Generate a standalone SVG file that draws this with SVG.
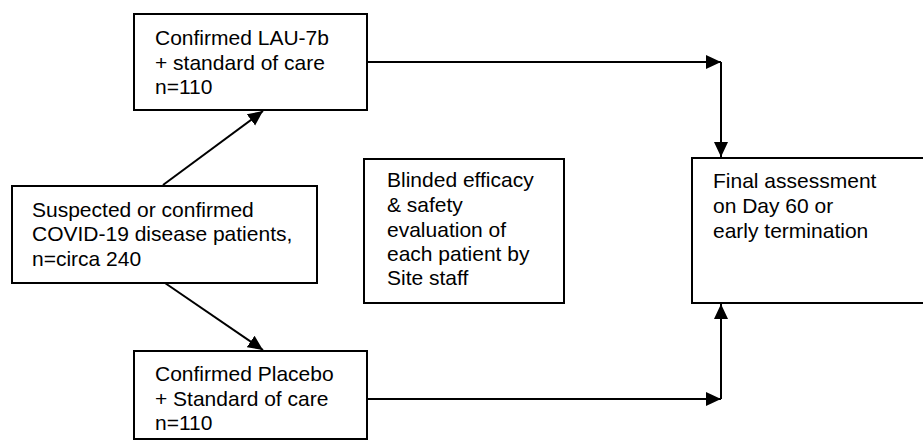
<svg xmlns="http://www.w3.org/2000/svg" width="923" height="440" viewBox="0 0 923 440">
<style>
.box{fill:#fff;stroke:#000;stroke-width:2}
.t{font-family:"Liberation Sans",Arial,sans-serif;font-size:21px;fill:#000}
.c{fill:none;stroke:#000;stroke-width:2}
</style>
<defs>
<marker id="ah" markerUnits="userSpaceOnUse" markerWidth="16" markerHeight="16" viewBox="0 0 16 16" refX="15" refY="8" orient="auto">
<path d="M0,1 L15,8 L0,15 Z" fill="#000"/>
</marker>
</defs>
<rect width="923" height="440" fill="#fff"/>
<g id="top">
<rect class="box" x="134" y="14" width="233" height="96"/>
<text class="t" x="155" y="45">Confirmed LAU-7b</text>
<text class="t" x="155" y="70">+ standard of care</text>
<text class="t" x="155" y="94">n=110</text>
</g>
<g id="left">
<rect class="box" x="12" y="186" width="305" height="97"/>
<text class="t" x="32" y="217">Suspected or confirmed</text>
<text class="t" x="32" y="241">COVID-19 disease patients,</text>
<text class="t" x="32" y="266">n=circa 240</text>
</g>
<g id="middle">
<rect class="box" x="364" y="159" width="200" height="144"/>
<text class="t" x="387" y="187">Blinded efficacy</text>
<text class="t" x="387" y="212">&amp; safety</text>
<text class="t" x="387" y="237">evaluation of</text>
<text class="t" x="387" y="261">each patient by</text>
<text class="t" x="387" y="285">Site staff</text>
</g>
<g id="bottom">
<rect class="box" x="134" y="351" width="233" height="88"/>
<text class="t" x="155" y="381">Confirmed Placebo</text>
<text class="t" x="155" y="406">+ Standard of care</text>
<text class="t" x="155" y="430">n=110</text>
</g>
<g id="final">
<rect class="box" x="692" y="158" width="240" height="145"/>
<text class="t" x="713" y="188">Final assessment</text>
<text class="t" x="713" y="213">on Day 60 or</text>
<text class="t" x="713" y="238">early termination</text>
</g>
<g id="connectors">
<line class="c" x1="163" y1="185" x2="263" y2="111" marker-end="url(#ah)"/>
<line class="c" x1="165" y1="283" x2="263" y2="350" marker-end="url(#ah)"/>
<line class="c" x1="367" y1="62" x2="721" y2="62" marker-end="url(#ah)"/>
<line class="c" x1="721" y1="62" x2="721" y2="157" marker-end="url(#ah)"/>
<line class="c" x1="367" y1="399" x2="721" y2="399" marker-end="url(#ah)"/>
<line class="c" x1="721" y1="399" x2="721" y2="304" marker-end="url(#ah)"/>
</g>
</svg>
